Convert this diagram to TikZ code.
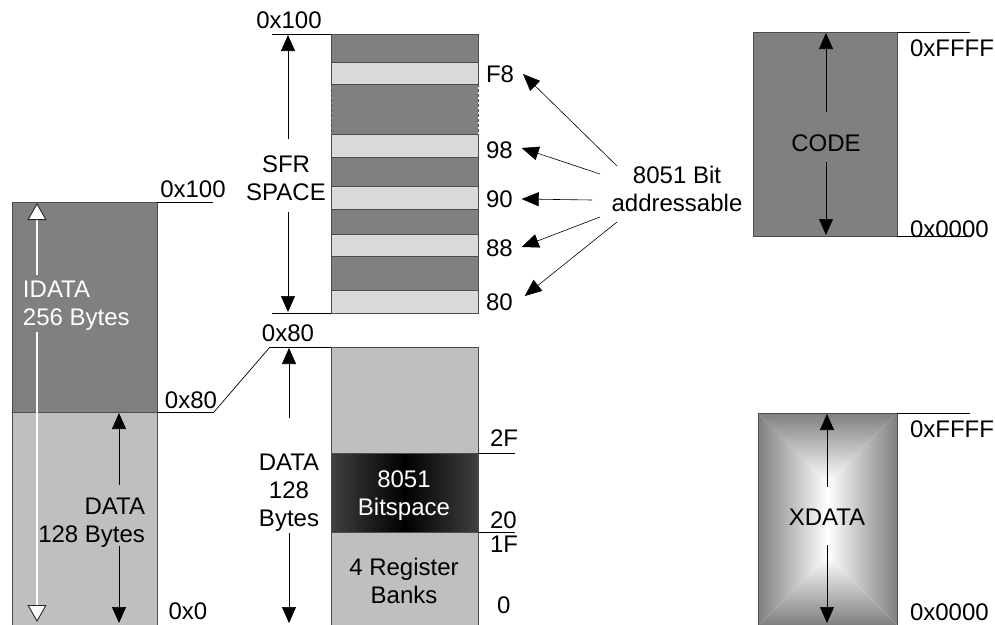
\documentclass[tikz,border=0pt]{standalone}
\usepackage{fontspec}
\setmainfont{Liberation Sans}
\usetikzlibrary{arrows.meta,fit}
\begin{document}
\begin{tikzpicture}[x=1pt,y=-1pt,
  box/.style={draw=black!70,line width=0.7pt,inner sep=0pt,outer sep=0pt},
  dk/.style={box,fill=black!50},
  lt/.style={box,fill=black!15},
  md/.style={box,fill=black!25},
  lbl/.style={inner sep=0pt,outer sep=0pt,font=\fontsize{24}{28}\selectfont,align=center},
  addr/.style={line width=0.7pt,black},
  ar/.style={line width=0.7pt,black,-{Triangle[length=16pt,width=14pt]}},
  war/.style={line width=1.3pt,white,-{Triangle[length=17pt,width=19pt,line width=0.9pt,color=black!85,fill=white]}},
  bitar/.style={line width=0.6pt,black,-{Triangle[length=17pt,width=14pt]}}
]
\useasboundingbox (0,0) rectangle (995,624);
\fill[white] (0,0) rectangle (995,624);
\clip (0,0) rectangle (995,624);

% ---------- IDATA block ----------
\node[dk,fit={(12,202)(157,412)}] (idH) {};
\node[md,fit={(12,412)(157,630)}] (idL) {};
\coordinate (l100) at (213,202);
\coordinate (l80) at (214,412);
\draw[addr] (idH.north east) -- (l100);
\draw[addr] (idH.south east) -- (l80);
\node[lbl] (t100l) at (193,189) {0x100};
\node[lbl] (t80l) at (191,400) {0x80};
\node[lbl] (t0l) at (188,611) {0x0};

\node[lbl,align=left,anchor=west,text=white] (idtxt) at (23,306) {IDATA\\256 Bytes};
\coordinate (idA) at (37,203);
\coordinate (idB) at (37,275);
\coordinate (idC) at (37,332);
\coordinate (idD) at (37,622);
\draw[war] (idB) -- (idA);
\draw[war] (idC) -- (idD);

\node[lbl,align=right,anchor=east] (dltxt) at (145,523) {DATA\\128 Bytes};
\coordinate (dlA) at (119,413);
\coordinate (dlB) at (119,485);
\coordinate (dlC) at (119,546);
\coordinate (dlD) at (119,623);
\draw[ar] (dlB) -- (dlA);
\draw[ar] (dlC) -- (dlD);

% ---------- SFR block ----------
\node[dk,fit={(331,34)(478,62)}] (s1) {};
\node[fill=black!50,inner sep=0pt,outer sep=0pt,fit={(331,84)(478,134)}] (s3) {};
\draw[black!70,line width=0.7pt,dash pattern=on 3pt off 2pt] (s3.north west) -- (s3.south west);
\draw[black!70,line width=0.7pt,dash pattern=on 3pt off 2pt] (s3.north east) -- (s3.south east);
\node[dk,fit={(331,157)(478,186)}] (s5) {};
\node[dk,fit={(331,209)(478,234)}] (s7) {};
\node[dk,fit={(331,256)(478,290)}] (s9) {};
\node[lt,fit={(331,62)(478,84)}] (s2) {};
\node[lt,fit={(331,134)(478,157)}] (s4) {};
\node[lt,fit={(331,186)(478,209)}] (s6) {};
\node[lt,fit={(331,234)(478,256)}] (s8) {};
\node[lt,fit={(331,290)(478,313)}] (s10) {};

\coordinate (m100) at (272,34);
\coordinate (m80s) at (272,313);
\draw[addr] (m100) -- (s1.north west);
\draw[addr] (m80s) -- (s10.south west);
\node[lbl] (t100m) at (289,20) {0x100};

\node[lbl] (sfrtxt) at (286,178) {SFR\\SPACE};
\coordinate (sfA) at (288,35);
\coordinate (sfB) at (288,139);
\coordinate (sfC) at (288,212);
\coordinate (sfD) at (288,312);
\draw[ar] (sfB) -- (sfA);
\draw[ar] (sfC) -- (sfD);

\node[lbl,anchor=west] (lF8) at (486,74) {F8};
\node[lbl,anchor=west] (l98) at (486,150) {98};
\node[lbl,anchor=west] (l90) at (486,199) {90};
\node[lbl,anchor=west] (l88) at (486,248) {88};
\node[lbl,anchor=west] (l80s) at (486,302) {80};

\node[lbl] (bitadr) at (677,189) {8051 Bit\\addressable};
\coordinate (b1) at (617,166);
\coordinate (b2) at (600,174);
\coordinate (b3) at (592,200);
\coordinate (b4) at (600,217);
\coordinate (b5) at (617,222);
\draw[bitar] (b1) -- ([xshift=9pt]lF8.east);
\draw[bitar] (b2) -- ([xshift=9pt,yshift=2pt]l98.east);
\draw[bitar] (b3) -- ([xshift=9pt]l90.east);
\draw[bitar] (b4) -- ([xshift=9pt,yshift=1pt]l88.east);
\draw[bitar] (b5) -- ([xshift=12pt,yshift=6pt]l80s.east);

% ---------- DATA block ----------
\node[md,fit={(331,347)(478,630)}] (dm) {};
\node[box,fit={(331,453)(478,532)},left color=black!75,right color=black!75,middle color=black] (bs) {};
\coordinate (m80) at (270,347);
\draw[addr] (m80) -- (dm.north west);
\draw[addr] (l80) -- (m80);
\node[lbl] (t80m) at (288,333) {0x80};
\coordinate (e2F) at (515,453);
\coordinate (e20) at (515,532);
\draw[addr] (bs.north east) -- (e2F);
\draw[addr] (bs.south east) -- (e20);
\node[lbl,anchor=west] (l2F) at (490,438) {2F};
\node[lbl,anchor=west] (l20) at (490,520) {20};
\node[lbl,anchor=west] (l1F) at (490,544) {1F};
\node[lbl,anchor=west] (l0) at (497,605) {0};
\node[lbl,text=white] (bstxt) at (404,496) {8051\\Bitspace};
\node[lbl] (rbtxt) at (404,581) {4 Register\\Banks};

\node[lbl] (dmtxt) at (289,493) {DATA\\128\\Bytes};
\coordinate (dmA) at (289,348);
\coordinate (dmB) at (289,418);
\coordinate (dmC) at (289,533);
\coordinate (dmD) at (289,623);
\draw[ar] (dmB) -- (dmA);
\draw[ar] (dmC) -- (dmD);

% ---------- CODE block ----------
\node[dk,fit={(753,32)(897,236)}] (cd) {};
\coordinate (cTop) at (970,32);
\coordinate (cBot) at (970,236);
\draw[addr] (cd.north east) -- (cTop);
\draw[addr] (cd.south east) -- (cBot);
\node[lbl,anchor=west] (cFF) at (910,48) {0xFFFF};
\node[lbl,anchor=west] (c00) at (910,229) {0x0000};
\node[lbl] (cdtxt) at (826,143) {CODE};
\coordinate (cdA) at (826,33);
\coordinate (cdB) at (826,112);
\coordinate (cdC) at (826,162);
\coordinate (cdD) at (826,235);
\draw[ar] (cdB) -- (cdA);
\draw[ar] (cdC) -- (cdD);

% ---------- XDATA block ----------
\shade[top color=black!50,bottom color=white] (758,413) -- (897,413) -- (827.5,482.5) -- cycle;
\shade[left color=black!50,right color=white] (758,413) -- (827.5,482.5) -- (827.5,555.5) -- (758,625) -- cycle;
\shade[right color=black!50,left color=white] (897,413) -- (827.5,482.5) -- (827.5,555.5) -- (897,625) -- cycle;
\shade[bottom color=black!50,top color=white] (758,625) -- (897,625) -- (827.5,555.5) -- cycle;
\node[box,fit={(758,413)(897,625)}] (xd) {};
\coordinate (xTop) at (970,413);
\draw[addr] (xd.north east) -- (xTop);
\node[lbl,anchor=west] (xFF) at (910,429) {0xFFFF};
\node[lbl,anchor=west] (x00) at (910,612) {0x0000};
\node[lbl] (xdtxt) at (827,517) {XDATA};
\coordinate (xdA) at (827,414);
\coordinate (xdB) at (827,487);
\coordinate (xdC) at (827,545);
\coordinate (xdD) at (827,623);
\draw[ar] (xdB) -- (xdA);
\draw[ar] (xdC) -- (xdD);
\end{tikzpicture}
\end{document}
